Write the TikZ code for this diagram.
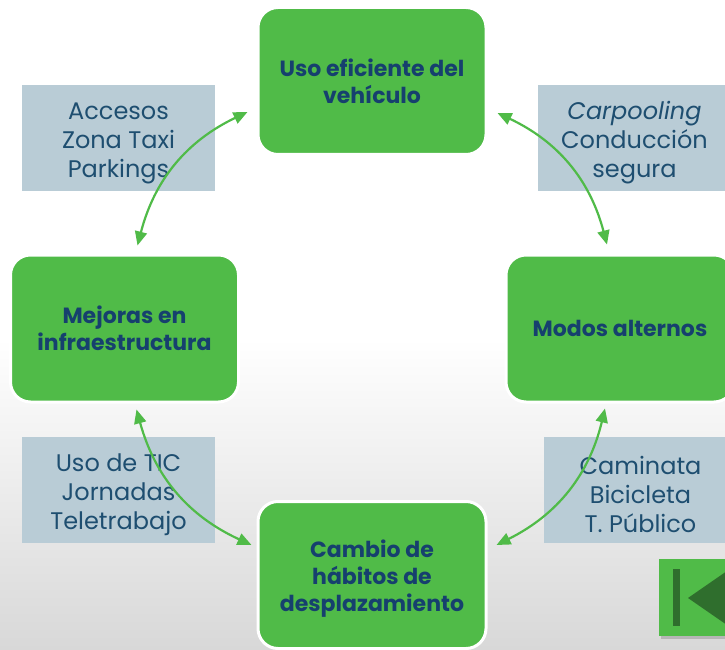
\documentclass[tikz,border=0pt]{standalone}
\usepackage{fontspec}
\setmainfont{Poppins}
\usetikzlibrary{arrows.meta,shadows}
\definecolor{verde}{RGB}{80,187,72}
\definecolor{verdeosc}{RGB}{47,110,45}
\definecolor{gris}{RGB}{185,204,214}
\definecolor{azul}{RGB}{22,64,110}
\definecolor{azulgris}{RGB}{30,78,112}
\definecolor{fondo}{RGB}{216,216,216}
\tikzset{
  caja/.style={fill=verde,draw=white,line width=3pt,rounded corners=20pt,
    minimum width=228pt,minimum height=147pt,align=center,
    font=\bfseries\fontsize{22}{27}\selectfont,text=azul},
  nota/.style={fill=gris,minimum width=193pt,minimum height=106pt,inner sep=0pt,
    text height=85pt,align=center,font=\fontsize{24}{29}\selectfont,text=azulgris},
  flecha/.style={{Triangle[length=14pt,width=12pt]}-{Triangle[length=14pt,width=12pt]},
    draw=verde,line width=2.2pt}
}
\begin{document}
\begin{tikzpicture}[x=1pt,y=1pt]
        \useasboundingbox (0,0) rectangle (725,649);
        \fill[white] (0,0) rectangle (725,649);
        \shade[top color=white,bottom color=fondo] (0,0) rectangle (725,310);
        % notas
        \node[nota] (nTL) at (118.5,511) {Accesos\\Zona Taxi\\Parkings};
        \node[nota] (nTR) at (634.5,511) {\textit{Carpooling}\\Conducción\\segura};
        \node[nota] (nBL) at (118.5,159) {Uso de TIC\\Jornadas\\Teletrabajo};
        \node[nota] (nBR) at (640.5,159) {Caminata\\Bicicleta\\T. Público};
        % cajas
        \node[caja] (top) at (372,568) {Uso eficiente del\\vehículo};
        \node[caja] (left) at (124.5,320.5) {Mejoras en\\infraestructura};
        \node[caja] (right) at (620,320.5) {Modos alternos};
        \node[caja,text height=78pt] (bottom) at (372,74) {Cambio de\\hábitos de\\desplazamiento};
        % flechas
        \draw[flecha] ([xshift=-9pt,yshift=-31pt]top.west) to[bend right=25] ([xshift=13pt,yshift=8pt]left.north);
        \draw[flecha] ([xshift=10pt,yshift=-32pt]top.east) to[bend left=25] ([xshift=-13pt,yshift=9pt]right.north);
        \draw[flecha] ([xshift=12pt,yshift=-6pt]left.south) to[bend right=25] ([xshift=-5pt,yshift=30pt]bottom.west);
        \draw[flecha] ([xshift=-15pt,yshift=-5pt]right.south) to[bend left=25] ([xshift=9pt,yshift=30pt]bottom.east);
        % boton
        \node[fill=verde,minimum width=76pt,minimum height=77pt,inner sep=0pt,
          drop shadow={shadow xshift=2pt,shadow yshift=-3pt,opacity=0.4}] (boton) at (697,51.5) {};
        \fill[verdeosc] (673,23) rectangle (680,80);
        \fill[verdeosc] (688,51) -- (740,87) -- (740,15) -- cycle;
\end{tikzpicture}
\end{document}
